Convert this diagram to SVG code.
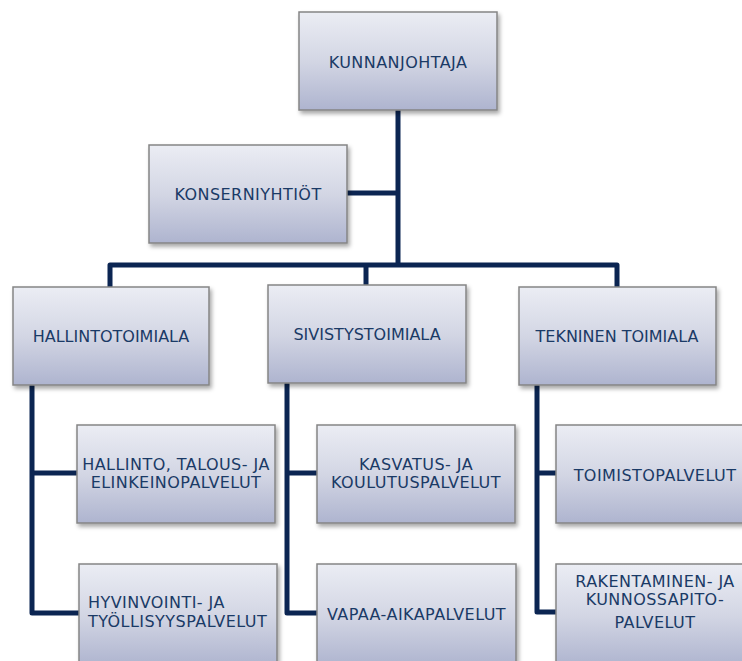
<svg xmlns="http://www.w3.org/2000/svg" width="742" height="661" viewBox="0 0 742 661">
<defs>
<linearGradient id="g" x1="0" y1="0" x2="0" y2="1">
<stop offset="0" stop-color="#EBEDF4"/>
<stop offset="0.5" stop-color="#D3D6E4"/>
<stop offset="1" stop-color="#AEB4CF"/>
</linearGradient>
<filter id="sh" x="-10%" y="-10%" width="125%" height="130%">
<feDropShadow dx="2" dy="3" stdDeviation="2" flood-color="#000" flood-opacity="0.35"/>
</filter>
</defs>
<style>
.box{fill:url(#g);stroke:#858585;stroke-width:1.5;filter:url(#sh)}
.t{font-family:"DejaVu Sans","Verdana",sans-serif;font-size:16px;fill:#1A3A66;text-anchor:middle;letter-spacing:0.45px}
.tl{font-family:"DejaVu Sans","Verdana",sans-serif;font-size:16px;fill:#1A3A66;letter-spacing:0.45px}
.t2{font-family:"DejaVu Sans","Verdana",sans-serif;font-size:16px;fill:#1A3A66;text-anchor:middle}
.c{fill:none;stroke:#0B2552;stroke-width:5;stroke-linejoin:round}
</style>
<rect width="742" height="661" fill="#fff"/>
<g id="connectors">
<path class="c" d="M398 110 V265"/>
<path class="c" d="M347 193 H398"/>
<path class="c" d="M110 287 V265 H617 V287"/>
<path class="c" d="M366 265 V285"/>
<path class="c" d="M32 385 V613 H79"/>
<path class="c" d="M32 473 H77"/>
<path class="c" d="M287 383 V613 H317"/>
<path class="c" d="M287 473 H317"/>
<path class="c" d="M537 385 V612 H556"/>
<path class="c" d="M537 473 H556"/>
</g>
<g id="kunnanjohtaja">
<rect class="box" x="299" y="12" width="198" height="98"/>
<text class="t" x="398" y="68">KUNNANJOHTAJA</text>
</g>
<g id="konserniyhtiot">
<rect class="box" x="149" y="145" width="198" height="98"/>
<text class="t" x="248" y="200">KONSERNIYHTIÖT</text>
</g>
<g id="hallintotoimiala">
<rect class="box" x="13" y="287" width="196" height="98"/>
<text class="t2" x="111" y="342">HALLINTOTOIMIALA</text>
</g>
<g id="sivistystoimiala">
<rect class="box" x="268" y="285" width="198" height="98"/>
<text class="t2" x="367" y="340">SIVISTYSTOIMIALA</text>
</g>
<g id="tekninen">
<rect class="box" x="519" y="287" width="197" height="98"/>
<text class="t2" x="617" y="342">TEKNINEN TOIMIALA</text>
</g>
<g id="hallinto-talous">
<rect class="box" x="77" y="425" width="198" height="98"/>
<text class="t" x="176" y="470">HALLINTO, TALOUS- JA</text>
<text class="t" x="176" y="488">ELINKEINOPALVELUT</text>
</g>
<g id="hyvinvointi">
<rect class="box" x="79" y="564" width="198" height="102"/>
<text class="tl" x="88" y="608">HYVINVOINTI- JA</text>
<text class="tl" x="88" y="627">TYÖLLISYYSPALVELUT</text>
</g>
<g id="kasvatus">
<rect class="box" x="317" y="425" width="198" height="98"/>
<text class="t" x="416" y="470">KASVATUS- JA</text>
<text class="t" x="416" y="488">KOULUTUSPALVELUT</text>
</g>
<g id="vapaa-aika">
<rect class="box" x="317" y="564" width="199" height="102"/>
<text class="t" x="416.5" y="620">VAPAA-AIKAPALVELUT</text>
</g>
<g id="toimisto">
<rect class="box" x="556" y="425" width="198" height="98"/>
<text class="t" x="655" y="481">TOIMISTOPALVELUT</text>
</g>
<g id="rakentaminen">
<rect class="box" x="556" y="564" width="198" height="102"/>
<text class="t" x="655" y="587">RAKENTAMINEN- JA</text>
<text class="t" x="655" y="605">KUNNOSSAPITO-</text>
<text class="t" x="655" y="628">PALVELUT</text>
</g>
</svg>
